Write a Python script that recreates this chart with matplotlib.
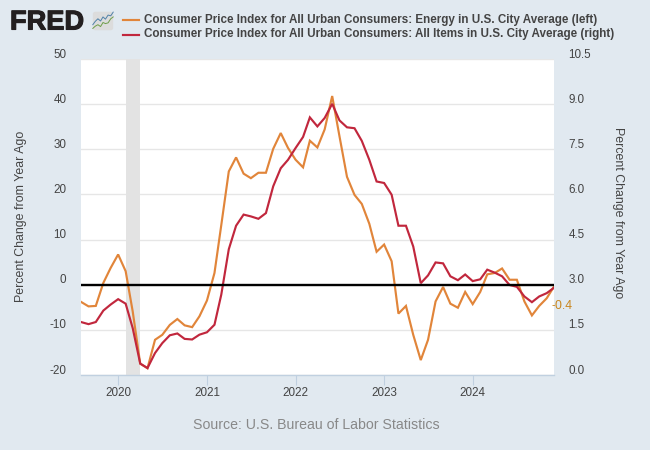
import matplotlib
matplotlib.use("Agg")
import matplotlib.pyplot as plt
import matplotlib.dates as mdates
import matplotlib.patheffects as pe
from matplotlib.patches import FancyBboxPatch
from matplotlib.transforms import ScaledTranslation
import pandas as pd

plt.rcParams["font.family"] = ["Liberation Sans", "DejaVu Sans"]
plt.rcParams["axes.unicode_minus"] = False

# monthly, Aug 2019 - Dec 2024
dates = pd.date_range("2019-08-01", "2024-12-01", freq="MS")
energy = [-3.8, -4.8, -4.7, 0.4, 3.7, 6.7, 3.0, -5.9, -17.5, -18.5, -12.2, -11.1,
          -8.9, -7.6, -9.0, -9.4, -7.0, -3.5, 2.6, 13.2, 25.1, 28.2, 24.6, 23.6,
          24.8, 24.8, 30.1, 33.6, 30.3, 27.7, 26.0, 31.9, 30.4, 34.4, 41.8, 32.9,
          23.9, 19.9, 17.9, 13.5, 7.3, 8.9, 5.2, -6.4, -4.7, -11.1, -16.7, -12.2,
          -3.7, -0.5, -4.2, -5.1, -1.6, -4.3, -1.6, 2.3, 2.6, 3.6, 1.1, 1.1,
          -3.7, -6.8, -4.7, -3.0, -0.4]
all_items = [1.76, 1.69, 1.76, 2.14, 2.34, 2.52, 2.37, 1.56, 0.38, 0.23, 0.73, 1.06,
             1.32, 1.38, 1.2, 1.18, 1.34, 1.42, 1.67, 2.67, 4.18, 4.96, 5.33, 5.27,
             5.19, 5.38, 6.27, 6.87, 7.15, 7.54, 7.91, 8.56, 8.26, 8.54, 9.01, 8.46,
             8.23, 8.2, 7.78, 7.15, 6.43, 6.38, 5.99, 4.96, 4.96, 4.27, 3.05, 3.31,
             3.74, 3.71, 3.28, 3.15, 3.34, 3.12, 3.18, 3.5, 3.4, 3.28, 2.99, 2.93,
             2.61, 2.42, 2.61, 2.72, 2.9]
left_ticks = [-20, -10, 0, 10, 20, 30, 40, 50]
right_ticks = [0.0, 1.5, 3.0, 4.5, 6.0, 7.5, 9.0, 10.5]
right_zero = 3.0
years = [2020, 2021, 2022, 2023, 2024]
recession = ("2020-02-01", "2020-04-01")
energy_name = "Consumer Price Index for All Urban Consumers: Energy in U.S. City Average (left)"
items_name = "Consumer Price Index for All Urban Consumers: All Items in U.S. City Average (right)"
y_title = "Percent Change from Year Ago"
last_label = "-0.4"

# small picture lines of the logo icon, in icon units
icon_x = [0, 0.12, 0.25, 0.38, 0.5, 0.62, 0.75, 0.88, 1.0]
icon_blue = [0.3, 0.48, 0.62, 0.5, 0.72, 0.6, 0.82, 0.78, 0.98]
icon_green = [0.1, 0.22, 0.3, 0.2, 0.42, 0.36, 0.4, 0.62, 0.72]

BG = "#e1e9f0"
ORANGE = "#e1853a"
RED = "#c1273d"
TXT = "#444444"

W, H = 650, 450
fig = plt.figure(figsize=(W / 100, H / 100), dpi=100, facecolor=BG)
box = [81 / W, 1 - 375 / H, (554 - 81) / W, (375 - 59) / H]
ax = fig.add_axes(box)
ax2 = ax.twinx()

ax.axvspan(pd.Timestamp(recession[0]), pd.Timestamp(recession[1]), color="#e3e3e3", lw=0, zorder=1)
ax.plot(dates, energy, color=ORANGE, lw=1.55, zorder=3, solid_joinstyle="miter")
ax2.plot(dates, all_items, color=RED, lw=1.55, zorder=3, solid_joinstyle="miter")
ax2.axhline(right_zero, color="black", lw=1.7, zorder=4)

ax.set_xlim(dates[0], dates[-1])
ax.set_ylim(-20, 50)
ax2.set_ylim(0, 10.5)
ax.set_yticks(left_ticks)
ax2.set_yticks(right_ticks)
ax2.set_yticklabels([f"{v:.1f}" for v in right_ticks])
ax.set_xticks([pd.Timestamp(f"{y}-01-01") for y in years])
ax.xaxis.set_major_formatter(mdates.DateFormatter("%Y"))
ax.grid(axis="y", color="#e6e6e6", lw=1, zorder=0)
ax.set_axisbelow(True)

for a in (ax, ax2):
    for s in a.spines.values():
        s.set_visible(False)
ax.spines["bottom"].set_visible(True)
ax.spines["bottom"].set_color("#c0d0e0")
ax.spines["bottom"].set_linewidth(1)

ax.tick_params(axis="x", length=7, width=0.8, color="#c0d0e0", labelsize=8.4, labelcolor=TXT, pad=1.6)
ax.tick_params(axis="y", length=0, labelsize=8.4, labelcolor=TXT, pad=10.5)
ax2.tick_params(axis="y", length=0, labelsize=8.4, labelcolor=TXT, pad=10.5)

# tick labels sit above their grid lines
up = ScaledTranslation(0, 6 / 100, fig.dpi_scale_trans)
for lab in ax.get_yticklabels() + ax2.get_yticklabels():
    lab.set_transform(lab.get_transform() + up)

fig.text(21 / W, 1 - 216 / H, y_title, rotation=90, ha="center", va="center", fontsize=8.9, color=TXT)
fig.text(618 / W, 1 - 213 / H, y_title, rotation=270, ha="center", va="center", fontsize=8.9, color=TXT)

ax.annotate(last_label, xy=(dates[-1], energy[-1]), xytext=(-3, -19), textcoords="offset pixels",
            ha="left", va="center", fontsize=8.9, color="#c9871f", annotation_clip=False, zorder=6)

fig.text(316.5 / W, 1 - 425 / H, "Source: U.S. Bureau of Labor Statistics", ha="center", va="center",
         fontsize=10.2, color="#888888")

# legend
for y_px, col, name in [(19.5, ORANGE, energy_name), (34.5, RED, items_name)]:
    fig.add_artist(plt.Line2D([123 / W, 139 / W], [1 - y_px / H] * 2, color=col, lw=1.55))
    fig.text(144 / W, 1 - y_px / H, name, ha="left", va="center", fontsize=8.42, color=TXT, fontweight="bold")

# FRED logo
logo_txt = fig.text(10 / W, 1 - 22.5 / H, "FRED", ha="left", va="center", fontsize=19.6, fontweight="bold", color="#231f20")
logo_txt.set_path_effects([pe.withStroke(linewidth=0.8, foreground="#231f20")])
logo = fig.add_axes([92 / W, 1 - 31 / H, 22 / W, 20 / H])
logo.axis("off")
logo.set_xlim(-0.04, 1.04)
logo.set_ylim(-0.04, 1.04)
logo.add_patch(FancyBboxPatch((0, 0), 1, 1, boxstyle="round,pad=0,rounding_size=0.12", fc="#dcdcdc", ec="none"))
logo.plot(icon_x, icon_blue, color="#4f81a8", lw=0.7)
logo.plot(icon_x, icon_green, color="#6f9e4a", lw=0.7)

fig.savefig("out.png", dpi=100, facecolor=BG)
